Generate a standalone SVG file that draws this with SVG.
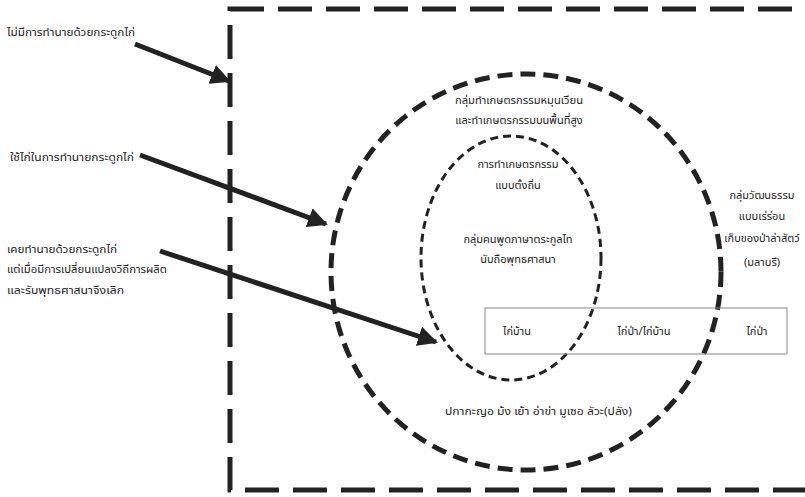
<svg xmlns="http://www.w3.org/2000/svg" width="805" height="497" viewBox="0 0 805 497">
<style>
text{font-family:"Noto Sans Thai","Noto Serif Thai","Liberation Serif",serif;font-size:11px;fill:#222}
.c{text-anchor:middle}
.arrow{stroke:#222;stroke-width:5;fill:none;marker-end:url(#ah)}
</style>
<defs>
<marker id="ah" viewBox="0 0 10 10" refX="9" refY="5" markerWidth="4" markerHeight="4" orient="auto" markerUnits="strokeWidth">
<path d="M0,0 L10,5 L0,10 z" fill="#222"/>
</marker>
</defs>
<rect width="805" height="497" fill="#fff"/>
<g id="outer-frame">
<rect x="230" y="9" width="600" height="481" fill="none" stroke="#222" stroke-width="5" stroke-dasharray="34 14"/>
</g>
<g id="big-ellipse">
<ellipse cx="526" cy="272" rx="195" ry="198" fill="none" stroke="#222" stroke-width="5" stroke-dasharray="15 8"/>
</g>
<g id="inner-ellipse">
<ellipse cx="511" cy="258" rx="90" ry="122" fill="none" stroke="#222" stroke-width="3" stroke-dasharray="8 5"/>
</g>
<g id="chicken-box">
<rect x="485" y="308" width="302" height="46" fill="none" stroke="#888" stroke-width="1"/>
<text x="517" y="335" class="c">ไก่บ้าน</text>
<text x="644" y="335" class="c">ไก่ป่า/ไก่บ้าน</text>
<text x="757" y="335" class="c">ไก่ป่า</text>
</g>
<g id="label-none">
<text x="7" y="36" textLength="128" lengthAdjust="spacingAndGlyphs">ไม่มีการทำนายด้วยกระดูกไก่</text>
</g>
<g id="label-use">
<text x="10" y="161" textLength="124" lengthAdjust="spacingAndGlyphs">ใช้ไก่ในการทำนายกระดูกไก่</text>
</g>
<g id="label-former">
<text x="7" y="253" textLength="110" lengthAdjust="spacingAndGlyphs">เคยทำนายด้วยกระดูกไก่</text>
<text x="7" y="273" textLength="160" lengthAdjust="spacingAndGlyphs">แต่เมื่อมีการเปลี่ยนแปลงวิถีการผลิต</text>
<text x="7" y="294" textLength="117" lengthAdjust="spacingAndGlyphs">และรับพุทธศาสนาจึงเลิก</text>
</g>
<g id="highland">
<text x="519" y="104" class="c" textLength="128" lengthAdjust="spacingAndGlyphs">กลุ่มทำเกษตรกรรมหมุนเวียน</text>
<text x="519" y="124" class="c">และทำเกษตรกรรมบนพื้นที่สูง</text>
</g>
<g id="settled">
<text x="518" y="168" class="c">การทำเกษตรกรรม</text>
<text x="518" y="189" class="c">แบบตั้งถิ่น</text>
<text x="518" y="243" class="c">กลุ่มคนพูดภาษาตระกูลไท</text>
<text x="518" y="263" class="c">นับถือพุทธศาสนา</text>
</g>
<g id="nomad">
<text x="762" y="199" class="c">กลุ่มวัฒนธรรม</text>
<text x="762" y="220" class="c">แบบเร่ร่อน</text>
<text x="762" y="242" class="c">เก็บของป่าล่าสัตว์</text>
<text x="762" y="266" class="c">(มลาบรี)</text>
</g>
<g id="ethnic">
<text x="445" y="415" textLength="187" lengthAdjust="spacingAndGlyphs">ปกากะญอ ม้ง เย้า อ่าข่า มูเซอ ลัวะ(ปลัง)</text>
</g>
<g id="connectors">
<line x1="135" y1="44" x2="229" y2="81" class="arrow"/>
<line x1="140" y1="155" x2="326" y2="224" class="arrow"/>
<line x1="160" y1="251" x2="436" y2="342" class="arrow"/>
</g>
</svg>
